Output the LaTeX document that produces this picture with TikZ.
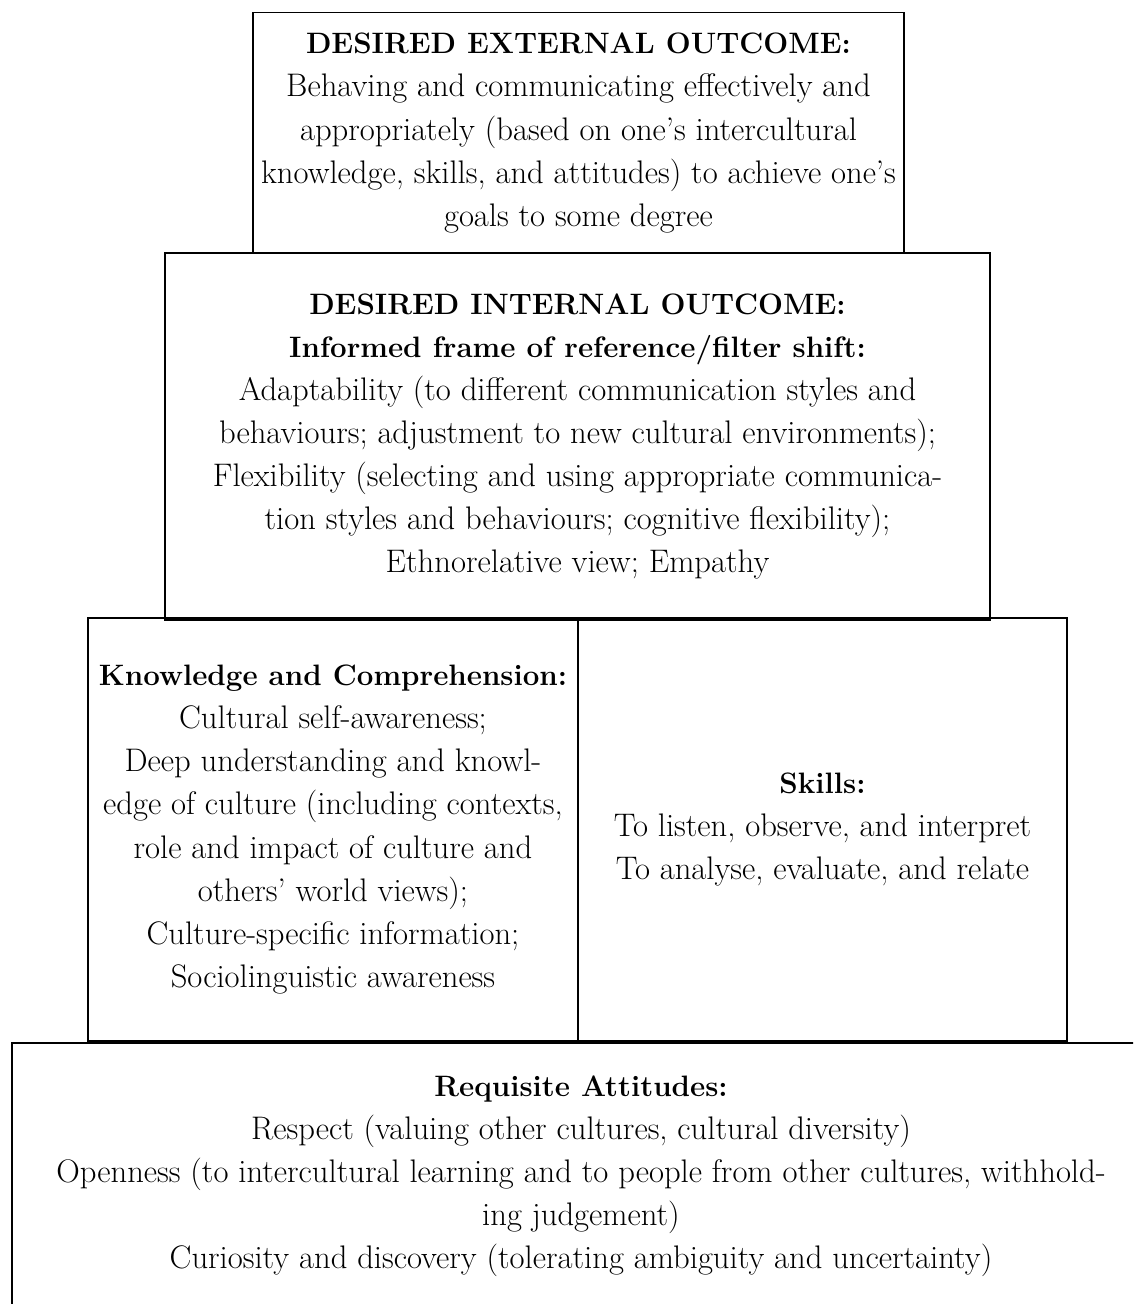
\documentclass[tikz,border=0pt]{standalone}
\usepackage{tikz}

\newcommand{\boxhead}[1]{{\fontsize{21}{30.6}\selectfont\bfseries #1}}

\begin{document}
\begin{tikzpicture}[x=0.025cm,y=-0.025cm,
  box/.style={draw,line width=1.3pt,inner sep=0pt,align=center,
    font=\fontsize{23.2}{30.6}\selectfont}]
\useasboundingbox (0,0) rectangle (1133,1304);
\clip (0,0) rectangle (1133,1304);

\node (ext) [box,minimum width=16.275cm,minimum height=6.025cm] at (578.5,133)
  {\boxhead{DESIRED EXTERNAL OUTCOME:}\\
   Behaving and communicating effectively and\\
   appropriately (based on one's intercultural\\
   knowledge, skills, and attitudes) to achieve one's\\
   goals to some degree};

\node (int) [box,minimum width=20.625cm,minimum height=9.175cm] at (577.5,436.5)
  {\boxhead{DESIRED INTERNAL OUTCOME:}\\
   \boxhead{Informed frame of reference/filter shift:}\\
   Adaptability (to different communication styles and\\
   behaviours; adjustment to new cultural environments);\\
   Flexibility (selecting and using appropriate communica-\\
   tion styles and behaviours; cognitive flexibility);\\
   Ethnorelative view; Empathy};

\node (know) [box,minimum width=12.25cm,minimum height=10.575cm] at (333,829.5)
  {\boxhead{Knowledge and Comprehension:}\\
   Cultural self-awareness;\\
   Deep understanding and knowl-\\
   edge of culture (including contexts,\\
   role and impact of culture and\\
   others' world views);\\
   Culture-specific information;\\
   Sociolinguistic awareness};

\node (skill) [box,minimum width=12.225cm,minimum height=10.575cm] at (822.5,829.5)
  {\boxhead{Skills:}\\
   To listen, observe, and interpret\\
   To analyse, evaluate, and relate};

\node (att) [box,minimum width=28.45cm,minimum height=6.65cm] at (581,1176)
  {\boxhead{Requisite Attitudes:}\\
   Respect (valuing other cultures, cultural diversity)\\
   Openness (to intercultural learning and to people from other cultures, withhold-\\
   ing judgement)\\
   Curiosity and discovery (tolerating ambiguity and uncertainty)};
\end{tikzpicture}
\end{document}
